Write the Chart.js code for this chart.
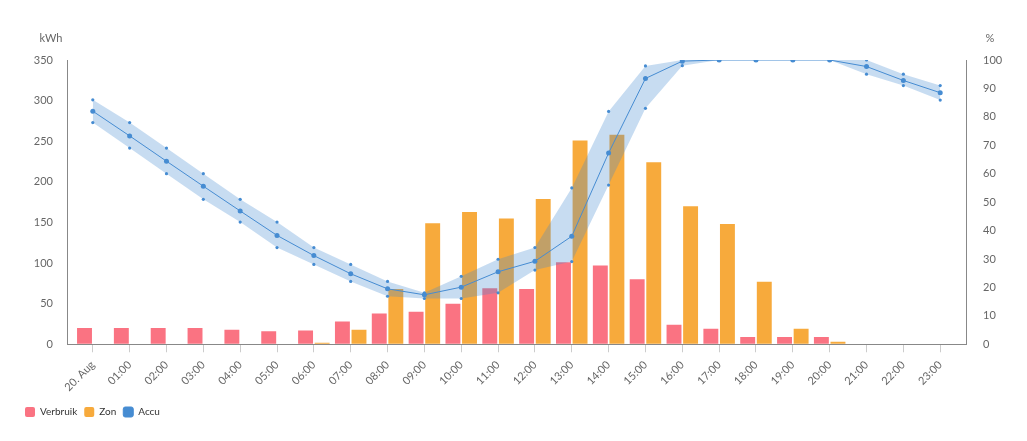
<!DOCTYPE html>
<html>
<head>
<meta charset="utf-8">
<script src="https://cdn.jsdelivr.net/npm/chart.js@4.4.0/dist/chart.umd.min.js"></script>
<style>
html, body { margin: 0; padding: 0; background: #fff; }
#wrap { width: 1027px; height: 441px; }
</style>
</head>
<body>
<div id="wrap"><canvas id="myChart"></canvas></div>
<script>
var hours = ['20. Aug', '01:00', '02:00', '03:00', '04:00', '05:00', '06:00', '07:00', '08:00', '09:00', '10:00', '11:00',
    '12:00', '13:00', '14:00', '15:00', '16:00', '17:00', '18:00', '19:00', '20:00', '21:00', '22:00', '23:00'];
// kWh
var verbruik = [20, 20, 20, 20, 18, 16, 17, 28, 38, 40, 50, 69, 68, 101, 97, 80, 24, 19, 9, 9, 9, 0, 0, 0];
var zon = [0, 0, 0, 0, 0, 0, 2, 18, 68, 149, 163, 155, 179, 251, 258, 224, 170, 148, 77, 19, 3, 0, 0, 0];
// accu %
var accu = [82, 73.3, 64.4, 55.6, 46.9, 38.3, 31.2, 24.8, 19.5, 17.4, 20.1, 25.5, 29.2, 38, 67.3, 93.5, 99.6, 100, 100, 100, 100, 97.7, 92.8, 88.5];
var accuMax = [86, 78, 69, 60, 51, 43, 34, 28.1, 22.1, 18.1, 23.9, 29.9, 34, 55, 81.9, 97.9, 100, 100, 100, 100, 100, 100, 95, 91];
var accuMin = [78, 69, 60, 51, 43, 34, 28.1, 22.1, 16.9, 16.1, 16.1, 18.1, 26.1, 29.1, 56, 83, 98, 100, 100, 100, 100, 95, 91, 85.9];

function xy(arr) {
    return arr.map(function (v, i) { return { x: i, y: v }; });
}

var blue = '#468cd2';
var font = 'Lato, "Open Sans", sans-serif';

// axis units above the two y axes
var unitTitles = {
    id: 'unitTitles',
    afterDraw: function (chart) {
        var c = chart.ctx, a = chart.chartArea;
        c.save();
        c.font = '11px ' + font;
        c.fillStyle = '#666';
        c.textAlign = 'center';
        c.textBaseline = 'middle';
        c.fillText('kWh', a.left - 16, a.top - 22);
        c.fillText('%', a.right + 24, a.top - 22);
        c.restore();
    }
};

var ctx = document.getElementById('myChart').getContext('2d');
var chart = new Chart(ctx, {
    type: 'bar',
    data: {
        datasets: [{
            label: 'Verbruik',
            data: xy(verbruik),
            backgroundColor: '#fa7382',
            borderWidth: 0,
            yAxisID: 'y',
            order: 2,
            categoryPercentage: 0.9,
            barPercentage: 0.9
        }, {
            label: 'Zon',
            data: xy(zon),
            backgroundColor: '#f7aa3c',
            borderWidth: 0,
            yAxisID: 'y',
            order: 2,
            categoryPercentage: 0.9,
            barPercentage: 0.9
        }, {
            type: 'line',
            label: 'Accu',
            data: xy(accu),
            borderColor: blue,
            backgroundColor: blue,
            borderWidth: 1,
            pointRadius: 2.5,
            pointBorderWidth: 0,
            fill: false,
            yAxisID: 'y1',
            order: 0
        }, {
            type: 'line',
            label: 'Accu max',
            data: xy(accuMax),
            borderWidth: 0,
            borderColor: 'rgba(0,0,0,0)',
            backgroundColor: 'rgba(70,140,210,0.3)',
            pointBackgroundColor: blue,
            pointRadius: 1.6,
            pointBorderWidth: 0,
            fill: '+1',
            yAxisID: 'y1',
            order: 1
        }, {
            type: 'line',
            label: 'Accu min',
            data: xy(accuMin),
            borderWidth: 0,
            borderColor: 'rgba(0,0,0,0)',
            backgroundColor: blue,
            pointBackgroundColor: blue,
            pointRadius: 1.6,
            pointBorderWidth: 0,
            fill: false,
            yAxisID: 'y1',
            order: 1
        }]
    },
    options: {
        responsive: true,
        maintainAspectRatio: false,
        animation: false,
        layout: { padding: { top: 60, left: 18, right: 0, bottom: 14 } },
        scales: {
            x: {
                type: 'linear',
                min: -0.7,
                max: 23.7,
                offset: false,
                grid: { offset: false, drawOnChartArea: false, color: '#ccc', tickLength: 8 },
                border: { color: '#888' },
                ticks: {
                    stepSize: 1,
                    includeBounds: false,
                    autoSkip: false,
                    minRotation: 45,
                    maxRotation: 45,
                    padding: 6,
                    color: '#666',
                    font: { family: font, size: 11 },
                    callback: function (v) { return hours[v]; }
                }
            },
            y: {
                position: 'left',
                min: 0,
                max: 350,
                grid: { drawOnChartArea: false, drawTicks: false },
                border: { color: '#888' },
                ticks: { stepSize: 50, padding: 14, color: '#666', font: { family: font, size: 11 } },
                afterFit: function (s) { s.width = 49; }
            },
            y1: {
                position: 'right',
                min: 0,
                max: 100,
                grid: { drawOnChartArea: false, drawTicks: false },
                border: { color: '#888' },
                ticks: { stepSize: 10, padding: 17, color: '#666', font: { family: font, size: 11 } },
                afterFit: function (s) { s.width = 61; }
            }
        },
        plugins: {
            legend: {
                position: 'bottom',
                align: 'start',
                labels: {
                    boxWidth: 10,
                    boxHeight: 10,
                    useBorderRadius: true,
                    borderRadius: 2,
                    padding: 7,
                    color: '#333',
                    font: { family: font, size: 10 },
                    filter: function (item) { return item.text.indexOf('Accu ') !== 0; },
                    sort: function (a, b) { return a.datasetIndex - b.datasetIndex; }
                }
            },
            tooltip: { enabled: false }
        }
    },
    plugins: [unitTitles]
});
</script>
</body>
</html>
